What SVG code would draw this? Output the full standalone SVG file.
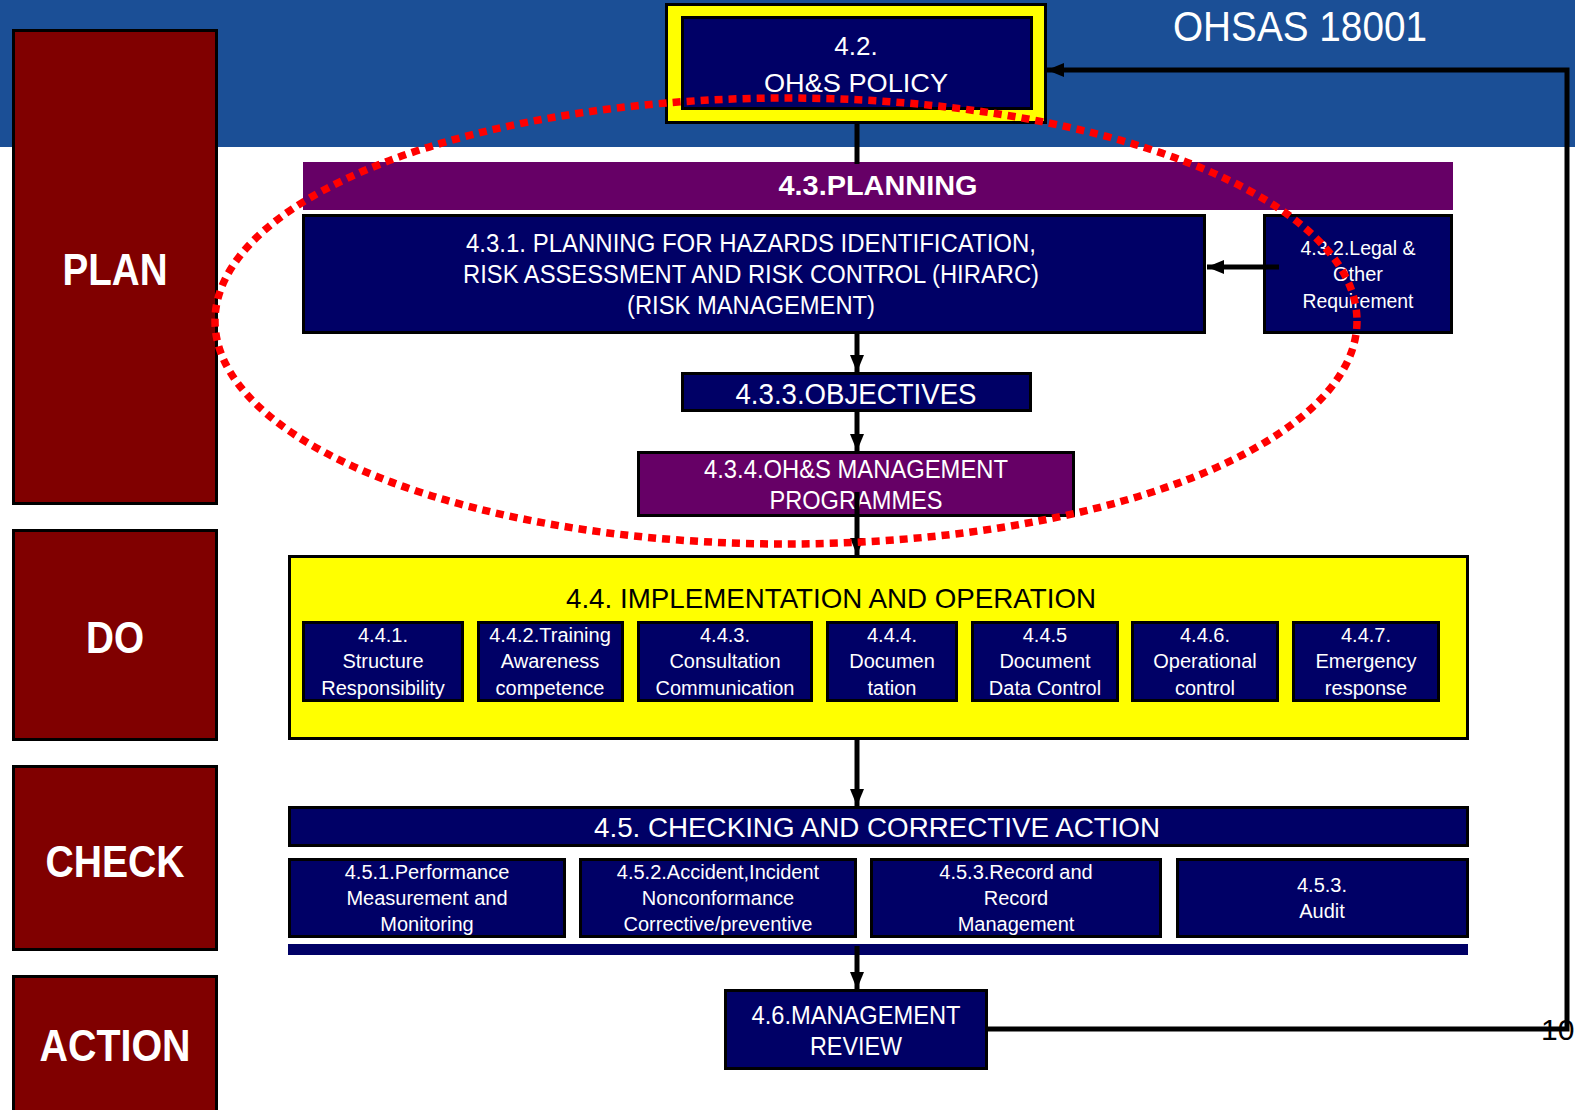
<svg xmlns="http://www.w3.org/2000/svg" width="1575" height="1110" viewBox="0 0 1575 1110">
<defs>
<style>
.t{font-family:"Liberation Sans",Arial,sans-serif;fill:#fff;text-anchor:middle}
.s{font-size:20px}
.big{font-family:"Liberation Sans",Arial,sans-serif;font-weight:bold;font-size:45px;fill:#fff;text-anchor:middle}
.pdca{fill:#800000;stroke:#000;stroke-width:3}
.nv{fill:#000066;stroke:#000;stroke-width:3}
.pu{fill:#660066;stroke:#000;stroke-width:3}
.ln{fill:none;stroke:#000;stroke-width:5}
</style>
<marker id="ah" markerUnits="userSpaceOnUse" markerWidth="18" markerHeight="16" refX="17" refY="8" orient="auto">
<path d="M0,1 L17,8 L0,15 z" fill="#000"/>
</marker>
</defs>
<rect x="0" y="0" width="1575" height="1110" fill="#fff"/>
<rect x="0" y="0" width="1575" height="147" fill="#1b4f96"/>
<text class="t" x="1300" y="41" font-size="42" textLength="254" lengthAdjust="spacingAndGlyphs">OHSAS 18001</text>

<g id="plan"><rect class="pdca" x="13.5" y="30.5" width="203" height="473"/><text class="big" x="115" y="285" textLength="105" lengthAdjust="spacingAndGlyphs">PLAN</text></g>
<g id="do"><rect class="pdca" x="13.5" y="530.5" width="203" height="209"/><text class="big" x="115" y="653" textLength="58" lengthAdjust="spacingAndGlyphs">DO</text></g>
<g id="check"><rect class="pdca" x="13.5" y="766.5" width="203" height="183"/><text class="big" x="115" y="877" textLength="139" lengthAdjust="spacingAndGlyphs">CHECK</text></g>
<g id="action"><rect class="pdca" x="13.5" y="976.5" width="203" height="140"/><text class="big" x="115" y="1061" textLength="151" lengthAdjust="spacingAndGlyphs">ACTION</text></g>

<g id="policy">
<rect x="666.5" y="4.5" width="379" height="118" fill="#ffff00" stroke="#000" stroke-width="3"/>
<rect class="nv" x="682.5" y="17.5" width="349" height="91"/>
<text class="t" x="856" y="55" font-size="26">4.2.</text>
<text class="t" x="856" y="92" font-size="26" textLength="184" lengthAdjust="spacingAndGlyphs">OH&amp;S POLICY</text>
</g>

<g id="planning">
<rect x="303" y="162" width="1150" height="48" fill="#660066"/>
<text class="t" x="878" y="195" font-size="28" font-weight="bold" textLength="199" lengthAdjust="spacingAndGlyphs">4.3.PLANNING</text>
</g>

<g id="hirarc">
<rect class="nv" x="303.5" y="215.5" width="901" height="117"/>
<text class="t" x="751" y="252" font-size="25" textLength="570" lengthAdjust="spacingAndGlyphs">4.3.1. PLANNING FOR HAZARDS  IDENTIFICATION,</text>
<text class="t" x="751" y="283" font-size="25" textLength="576" lengthAdjust="spacingAndGlyphs">RISK ASSESSMENT AND RISK CONTROL (HIRARC)</text>
<text class="t" x="751" y="314" font-size="25" textLength="248" lengthAdjust="spacingAndGlyphs">(RISK MANAGEMENT)</text>
</g>

<g id="legal">
<rect class="nv" x="1264.5" y="215.5" width="187" height="117"/>
<text class="t s" x="1358" y="255" textLength="115" lengthAdjust="spacingAndGlyphs">4.3.2.Legal &amp;</text>
<text class="t s" x="1358" y="281">Other</text>
<text class="t s" x="1358" y="308" textLength="111" lengthAdjust="spacingAndGlyphs">Requirement</text>
</g>

<g id="objectives">
<rect class="nv" x="682.5" y="373.5" width="348" height="37"/>
<text class="t" x="856" y="404" font-size="29" textLength="241" lengthAdjust="spacingAndGlyphs">4.3.3.OBJECTIVES</text>
</g>

<g id="programmes">
<rect class="pu" x="638.5" y="452.5" width="435" height="63"/>
<text class="t" x="856" y="478" font-size="25" textLength="304" lengthAdjust="spacingAndGlyphs">4.3.4.OH&amp;S MANAGEMENT</text>
<text class="t" x="856" y="509" font-size="25" textLength="173" lengthAdjust="spacingAndGlyphs">PROGRAMMES</text>
</g>

<g id="implementation">
<rect x="289.5" y="556.5" width="1178" height="182" fill="#ffff00" stroke="#000" stroke-width="3"/>
<text class="t" x="831" y="608" font-size="28" style="fill:#000" textLength="530" lengthAdjust="spacingAndGlyphs">4.4. IMPLEMENTATION AND OPERATION</text>
</g>
<g id="n441"><rect class="nv" x="303.5" y="622.5" width="159" height="78"/><text class="t s" x="383" y="642">4.4.1.</text><text class="t s" x="383" y="668">Structure</text><text class="t s" x="383" y="695">Responsibility</text></g>
<g id="n442"><rect class="nv" x="478.5" y="622.5" width="144" height="78"/><text class="t s" x="550" y="642">4.4.2.Training</text><text class="t s" x="550" y="668">Awareness</text><text class="t s" x="550" y="695">competence</text></g>
<g id="n443"><rect class="nv" x="638.5" y="622.5" width="173" height="78"/><text class="t s" x="725" y="642">4.4.3.</text><text class="t s" x="725" y="668">Consultation</text><text class="t s" x="725" y="695">Communication</text></g>
<g id="n444"><rect class="nv" x="827.5" y="622.5" width="129" height="78"/><text class="t s" x="892" y="642">4.4.4.</text><text class="t s" x="892" y="668">Documen</text><text class="t s" x="892" y="695">tation</text></g>
<g id="n445"><rect class="nv" x="972.5" y="622.5" width="145" height="78"/><text class="t s" x="1045" y="642">4.4.5</text><text class="t s" x="1045" y="668">Document</text><text class="t s" x="1045" y="695">Data Control</text></g>
<g id="n446"><rect class="nv" x="1132.5" y="622.5" width="145" height="78"/><text class="t s" x="1205" y="642">4.4.6.</text><text class="t s" x="1205" y="668">Operational</text><text class="t s" x="1205" y="695">control</text></g>
<g id="n447"><rect class="nv" x="1293.5" y="622.5" width="145" height="78"/><text class="t s" x="1366" y="642">4.4.7.</text><text class="t s" x="1366" y="668">Emergency</text><text class="t s" x="1366" y="695">response</text></g>

<g id="checking">
<rect class="nv" x="289.5" y="807.5" width="1178" height="38"/>
<text class="t" x="877" y="837" font-size="28" textLength="566" lengthAdjust="spacingAndGlyphs">4.5. CHECKING AND CORRECTIVE ACTION</text>
</g>
<g id="n451"><rect class="nv" x="289.5" y="859.5" width="275" height="77"/><text class="t s" x="427" y="879">4.5.1.Performance</text><text class="t s" x="427" y="905">Measurement and</text><text class="t s" x="427" y="931">Monitoring</text></g>
<g id="n452"><rect class="nv" x="580.5" y="859.5" width="275" height="77"/><text class="t s" x="718" y="879">4.5.2.Accident,Incident</text><text class="t s" x="718" y="905">Nonconformance</text><text class="t s" x="718" y="931">Corrective/preventive</text></g>
<g id="n453"><rect class="nv" x="871.5" y="859.5" width="289" height="77"/><text class="t s" x="1016" y="879">4.5.3.Record and</text><text class="t s" x="1016" y="905">Record</text><text class="t s" x="1016" y="931">Management</text></g>
<g id="n454"><rect class="nv" x="1177.5" y="859.5" width="290" height="77"/><text class="t s" x="1322" y="892">4.5.3.</text><text class="t s" x="1322" y="918">Audit</text></g>
<rect x="288" y="944" width="1180" height="11" fill="#000066"/>

<g id="review">
<rect class="nv" x="725.5" y="990.5" width="261" height="78"/>
<text class="t" x="856" y="1024" font-size="25" textLength="209" lengthAdjust="spacingAndGlyphs">4.6.MANAGEMENT</text>
<text class="t" x="856" y="1055" font-size="25" textLength="92" lengthAdjust="spacingAndGlyphs">REVIEW</text>
</g>

<g id="connectors">
<line class="ln" x1="857" y1="123" x2="857" y2="164"/>
<line class="ln" x1="1279" y1="267" x2="1207" y2="267" marker-end="url(#ah)"/>
<line class="ln" x1="857" y1="334" x2="857" y2="372" marker-end="url(#ah)"/>
<line class="ln" x1="857" y1="412" x2="857" y2="451" marker-end="url(#ah)"/>
<line class="ln" x1="857" y1="492" x2="857" y2="555" marker-end="url(#ah)"/>
<line class="ln" x1="857" y1="740" x2="857" y2="806" marker-end="url(#ah)"/>
<line class="ln" x1="857" y1="946" x2="857" y2="989" marker-end="url(#ah)"/>
<polyline class="ln" points="988,1029 1567,1029 1567,70 1047,70" marker-end="url(#ah)"/>
</g>

<text x="1541" y="1040" font-family="Liberation Sans, Arial, sans-serif" font-size="30" fill="#000">10</text>

<ellipse cx="786" cy="321" rx="571" ry="223" fill="none" stroke="#ff0000" stroke-width="7.5" stroke-dasharray="8 6"/>
</svg>
